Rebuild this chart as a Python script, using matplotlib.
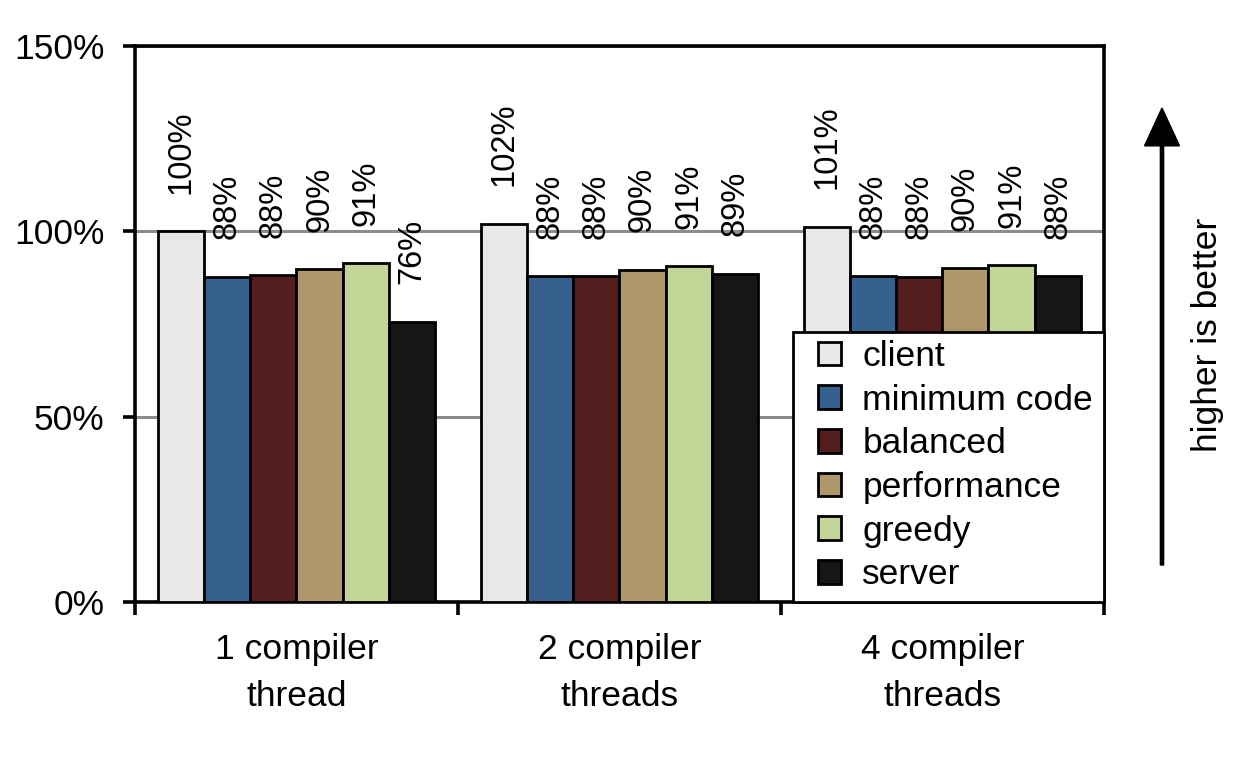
import numpy as np
import matplotlib.pyplot as plt
from matplotlib.ticker import FixedLocator
from matplotlib.patches import FancyArrow, Rectangle

# datos (porcentaje relativo)
groups = ['1 compiler\nthread', '2 compiler\nthreads', '4 compiler\nthreads']
series = ['client', 'minimum code', 'balanced', 'performance', 'greedy', 'server']
client = [100.0, 102.0, 101.2]
minimum_code = [87.7, 87.9, 87.9]
balanced = [88.2, 87.9, 87.7]
performance = [89.8, 89.6, 90.1]
greedy = [91.4, 90.6, 90.9]
server = [75.6, 88.5, 87.9]
label_values = [[100, 102, 101], [88, 88, 88], [88, 88, 88],
                [90, 90, 90], [91, 91, 91], [76, 89, 88]]
colors = ['#E8E8E8', '#36618F', '#541E1E', '#AD976B', '#C3D597', '#161616']

data = [client, minimum_code, balanced, performance, greedy, server]

plt.rcParams['font.family'] = ['Liberation Sans', 'DejaVu Sans']
narrow = ['Liberation Sans Narrow', 'Liberation Sans', 'DejaVu Sans']

fig = plt.figure(figsize=(12.5, 7.57), dpi=100)
ax = fig.add_axes([0.108, 0.2048, 0.775, 0.7344])

x = np.arange(len(groups))
width = 0.143
for i, (name, vals) in enumerate(zip(series, data)):
    pos = x + (i - 2.5) * width
    ax.bar(pos, vals, width, color=colors[i], edgecolor='black',
           linewidth=2.0, label=name, zorder=3)
    for p, v, lab in zip(pos, vals, label_values[i]):
        ax.annotate('%d%%' % lab, (p, v), xytext=(0, 27),
                    textcoords='offset points', rotation=90,
                    ha='center', va='bottom', fontsize=23.5, family=narrow)

ax.set_xlim(-0.5, 2.5)
ax.set_ylim(0, 150)
ax.set_yticks([0, 50, 100, 150])
ax.set_yticklabels(['0%', '50%', '100%', '150%'], fontsize=25.5)
ax.yaxis.grid(True, color='#8C8C8C', linewidth=2.2, zorder=0)
ax.set_axisbelow(True)

ax.xaxis.set_major_locator(FixedLocator([-0.5, 0.5, 1.5, 2.5]))
ax.set_xticklabels([])
ax.xaxis.set_minor_locator(FixedLocator(x))
ax.set_xticklabels(groups, minor=True, fontsize=25.5, linespacing=1.57)
ax.tick_params(axis='x', which='minor', length=0, pad=22)
ax.tick_params(axis='both', which='major', direction='out', length=9,
               width=2.6, color='black')
ax.tick_params(axis='y', pad=13)

for s in ax.spines.values():
    s.set_linewidth(2.6)
    s.set_color('black')

# caja de la leyenda (mas margen a la izquierda que a la derecha)
box = Rectangle((0.679, 0.0), 0.321, 0.486, transform=ax.transAxes,
                facecolor='white', edgecolor='black', linewidth=2.0,
                zorder=4, clip_on=False)
ax.add_patch(box)
leg = ax.legend(loc='upper left', bbox_to_anchor=(0.705, 0.471), fontsize=25.5,
                frameon=False, borderaxespad=0, borderpad=0,
                handlelength=0.65, handleheight=0.65, handletextpad=0.6,
                labelspacing=0.3)
leg.set_zorder(5)
for h in leg.legend_handles:
    h.set_linewidth(2.0)

# flecha "higher is better"
fig.patches.append(FancyArrow(
    1162 / 1250, 1 - 565 / 757, 0, (565 - 108) / 757, width=0.0026,
    head_width=0.028, head_length=0.05, length_includes_head=True,
    color='black', transform=fig.transFigure))
fig.text(1207 / 1250, 1 - 335 / 757, 'higher is better', rotation=90,
         ha='center', va='center', fontsize=25.5)

fig.savefig('out.png', dpi=100)
